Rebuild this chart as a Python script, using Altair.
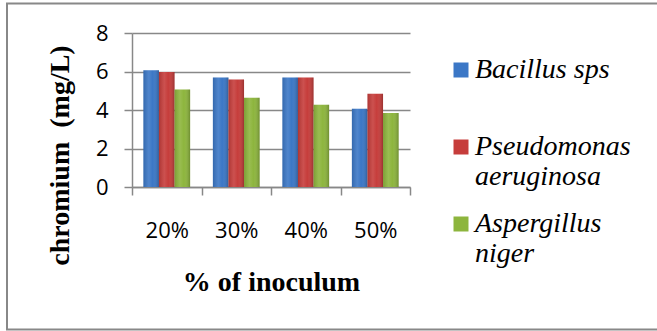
import altair as alt
import pandas as pd

categories = ["20%", "30%", "40%", "50%"]
series = ["Bacillus sps", "Pseudomonas aeruginosa", "Aspergillus niger"]
bacillus = [6.07, 5.69, 5.69, 4.06]
pseudomonas = [5.98, 5.58, 5.69, 4.85]
aspergillus = [5.06, 4.64, 4.27, 3.85]
y_ticks = [0, 2, 4, 6, 8]
colors = ["#3B77C6", "#C63D3B", "#8DB53D"]

rows = []
for name, vals in zip(series, [bacillus, pseudomonas, aspergillus]):
    for c, v in zip(categories, vals):
        rows.append({"inoculum": c, "organism": name, "value": v})
df = pd.DataFrame(rows)

GRAY = "#888888"

x_enc = alt.X(
    "inoculum:N",
    sort=categories,
    scale=alt.Scale(paddingInner=0, paddingOuter=0),
    axis=alt.Axis(
        title="% of inoculum",
        tickBand="extent",
        labelAngle=0,
        grid=False,
        domainColor=GRAY,
        domainWidth=1.5,
        tickColor=GRAY,
        tickWidth=1.5,
        tickSize=8,
        labelFont="Open Sans",
        labelFontSize=22,
        labelColor="#000000",
        labelPadding=42,
        labelBaseline="alphabetic",
        titleFont="Liberation Serif",
        titleFontWeight="bold",
        titleFontSize=28,
        titleColor="#000000",
        titleY=103,
        titleBaseline="alphabetic",
    ),
)
xoff_enc = alt.XOffset(
    "organism:N", sort=series, scale=alt.Scale(paddingInner=0, paddingOuter=0.73)
)
y_enc = alt.Y(
    "value:Q",
    scale=alt.Scale(domain=[0, 8], nice=False),
    axis=alt.Axis(
        title="chromium\u00a0 (mg/L)",
        values=y_ticks,
        tickCount=5,
        labelOverlap=False,
        grid=True,
        gridColor=GRAY,
        gridWidth=1.5,
        domainColor=GRAY,
        domainWidth=1.5,
        tickColor=GRAY,
        tickWidth=1.5,
        tickSize=8,
        labelFont="Open Sans",
        labelFontSize=22,
        labelColor="#000000",
        labelPadding=16,
        titleFont="Liberation Serif",
        titleFontWeight="bold",
        titleFontSize=28,
        titleColor="#000000",
        titleX=-72,
        titleY=122,
        titleAlign="center",
        titleBaseline="middle",
    ),
)

bars = alt.Chart(df).mark_bar().encode(
    x=x_enc,
    xOffset=xoff_enc,
    y=y_enc,
    color=alt.Color(
        "organism:N",
        sort=series,
        scale=alt.Scale(domain=series, range=colors),
        legend=alt.Legend(
            orient="none",
            legendX=315,
            legendY=23,
            title=None,
            padding=0,
            symbolType="square",
            symbolSize=225,
            symbolStrokeWidth=0,
            symbolOpacity=1,
            labelFont="Liberation Serif",
            labelFontStyle="italic",
            labelFontSize=28,
            labelColor="#000000",
            labelLimit=300,
            labelOffset=0,
            labelBaseline="middle",
            rowPadding=19,
            labelExpr="datum.label == 'Bacillus sps' ? ['Bacillus sps', ' '] : split(datum.label, ' ')",
        ),
    ),
)

shade = alt.Chart(df).mark_bar(
    color=alt.Gradient(
        gradient="linear",
        x1=0, x2=1, y1=0, y2=0,
        stops=[
            alt.GradientStop(color="rgba(0,0,0,0.12)", offset=0),
            alt.GradientStop(color="rgba(255,255,255,0.10)", offset=0.35),
            alt.GradientStop(color="rgba(255,255,255,0.0)", offset=0.6),
            alt.GradientStop(color="rgba(0,0,0,0.22)", offset=1),
        ],
    )
).encode(x=x_enc, xOffset=xoff_enc, y=y_enc)

frame = alt.Chart(alt.Data(values=[{"f": 1}])).mark_rect(
    filled=False, stroke=GRAY, strokeWidth=2
).encode(
    x=alt.value(-125), x2=alt.value(560), y=alt.value(-29.5), y2=alt.value(296.5)
)

chart = alt.layer(frame, bars, shade).properties(
    width=278,
    height=154,
    autosize=alt.AutoSizeParams(type="none"),
    padding={"left": 132, "top": 33, "right": 247, "bottom": 144},
    background="#ffffff",
).configure_view(stroke=None)

chart.save("out.html", embed_options={"renderer": "svg", "actions": False})
